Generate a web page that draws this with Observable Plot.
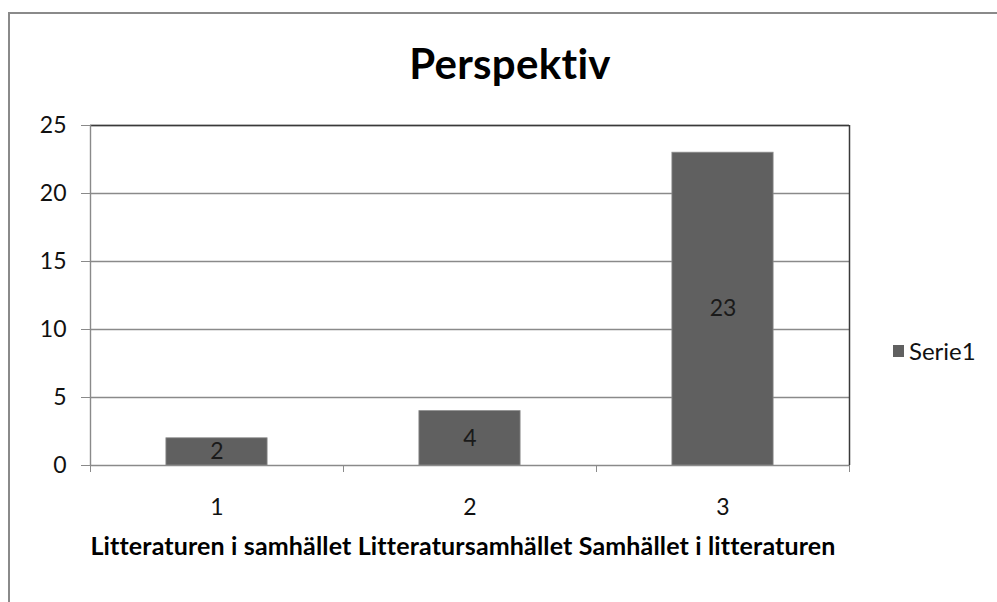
<!DOCTYPE html>
<html>
<head>
<meta charset="utf-8">
<script src="https://cdn.jsdelivr.net/npm/d3@7"></script>
<script src="https://cdn.jsdelivr.net/npm/@observablehq/plot@0.6"></script>
<style>
  html, body { margin: 0; padding: 0; background: #fff; }
  #wrap { position: relative; width: 997px; height: 602px; overflow: hidden; font-family: Lato, "Open Sans", sans-serif; }
  #frame { position: absolute; left: 8px; top: 12px; width: 1100px; height: 700px; border: 2px solid #8a8a8a; box-sizing: border-box; }
  #title { position: absolute; left: 0; width: 1020px; top: 38px; text-align: center; font-size: 42px; font-weight: 700; color: #000; letter-spacing: 0.3px; }
  #xtitle { position: absolute; left: 0; width: 926px; top: 530px; text-align: center; font-size: 25px; font-weight: 700; color: #000; white-space: nowrap; letter-spacing: 0.15px; }
  #legend { position: absolute; left: 893px; top: 336px; font-size: 24px; color: #111; display: flex; align-items: center; }
  #legend .sw { width: 11px; height: 12px; background: #606060; margin-right: 5px; }
  #chart { position: absolute; left: 0; top: 0; }
</style>
</head>
<body>
<div id="wrap">
  <div id="frame"></div>
  <div id="chart"></div>
  <div id="title"></div>
  <div id="xtitle"></div>
  <div id="legend"><div class="sw"></div><span id="legtext"></span></div>
</div>
<script>
const chartTitle = "Perspektiv";
const categories = ["1", "2", "3"];
const values = [2, 4, 23];
const axisTitle = "Litteraturen i samhället Litteratursamhället Samhället i litteraturen";
const seriesName = "Serie1";
const yTicks = [0, 5, 10, 15, 20, 25];

const data = categories.map((c, i) => ({cat: c, pos: i + 1, value: values[i]}));
const positions = data.map(d => d.pos);
const boundaries = [0.5, ...positions.map(p => p + 0.5)];

document.getElementById("title").textContent = chartTitle;
document.getElementById("xtitle").textContent = axisTitle;
document.getElementById("legtext").textContent = seriesName;

const chart = Plot.plot({
  width: 997,
  height: 602,
  marginLeft: 90,
  marginRight: 148,
  marginTop: 125,
  marginBottom: 137,
  style: {fontFamily: "Lato, 'Open Sans', sans-serif", fontSize: "23px", color: "#111", background: "transparent", overflow: "visible"},
  x: {type: "linear", domain: [0.5, 3.5]},
  y: {domain: [0, 25]},
  marks: [
    Plot.ruleY(yTicks, {stroke: "#8a8a8a", strokeWidth: 1.4}),
    Plot.rectY(data, {x1: d => d.pos - 0.2, x2: d => d.pos + 0.2, y: "value", fill: "#606060", stroke: "#8c8c8c", strokeWidth: 0.8}),
    Plot.text(data, {x: "pos", y: d => d.value / 2, text: d => String(d.value), fill: "#1a1a1a", fontSize: 23}),
    Plot.ruleY([25], {stroke: "#3a3a3a", strokeWidth: 1.5}),
    Plot.ruleX([3.5], {stroke: "#3a3a3a", strokeWidth: 1.5}),
    Plot.ruleX([0.5], {stroke: "#8a8a8a", strokeWidth: 1.4}),
    Plot.axisY({ticks: yTicks, tickSize: 9, tickPadding: 15, stroke: "#8a8a8a", fill: "#111", label: null, fontSize: 23}),
    Plot.axisX({ticks: boundaries, tickSize: 7, tickFormat: () => "", stroke: "#8a8a8a", label: null}),
    Plot.axisX({ticks: positions, tickSize: 0, tickPadding: 33, tickFormat: p => categories[p - 1], fill: "#111", label: null, fontSize: 23})
  ]
});
document.getElementById("chart").appendChild(chart);
</script>
</body>
</html>
